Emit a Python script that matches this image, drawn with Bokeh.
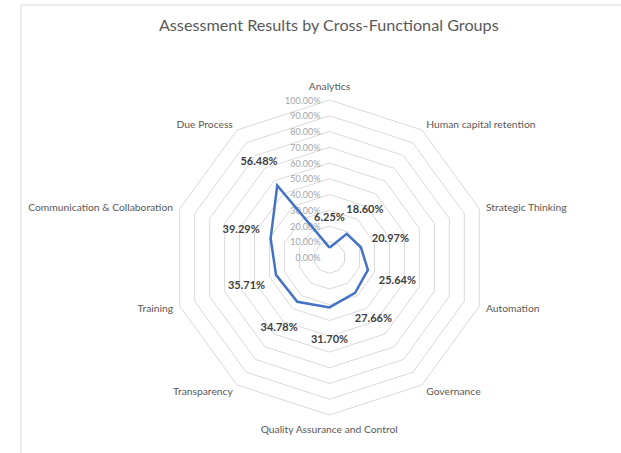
import numpy as np
from bokeh.plotting import figure
from bokeh.models import Range1d
from bokeh.core.properties import value
from bokeh.embed import file_html
from bokeh.resources import INLINE

# ---- data ----
categories = ["Analytics", "Human capital retention", "Strategic Thinking", "Automation",
              "Governance", "Quality Assurance and Control", "Transparency", "Training",
              "Communication & Collaboration", "Due Process"]
scores = [6.25, 18.60, 20.97, 25.64, 27.66, 31.70, 34.78, 35.71, 39.29, 56.48]
ring_values = [10, 20, 30, 40, 50, 60, 70, 80, 90, 100]
tick_values = [0, 10, 20, 30, 40, 50, 60, 70, 80, 90, 100]
tick_labels = ["%.2f%%" % v for v in tick_values]
title_text = "Assessment Results by Cross-Functional Groups"

# ---- layout ----
W, H = 621, 453
S = 1.575            # pixels per percent
CX, CY = 329, 257    # centre in figure pixels (from top-left)
FONT = "Lato"

p = figure(width=W, height=H, output_backend="svg", toolbar_location=None,
           x_range=Range1d(-CX / S, (W - CX) / S), y_range=Range1d(-(H - CY) / S, CY / S),
           min_border=0, background_fill_color="white", border_fill_color="white")
p.axis.visible = False
p.grid.visible = False
p.outline_line_color = None

def px_to_data(x, y):
    return (x - CX) / S, (CY - y) / S

n = len(categories)
ang = np.pi / 2 - 2 * np.pi * np.arange(n) / n

# chart area border (left and top)
bx, by_top = px_to_data(20.5, 4.5)
_, by_bot = px_to_data(0, H)
rx, _ = px_to_data(W, 0)
p.line([bx, bx, rx], [by_bot, by_top, by_top], line_color="#d9d9d9", line_width=1)

# rings
xs = [list(np.append(r * np.cos(ang), r * np.cos(ang[0]))) for r in ring_values]
ys = [list(np.append(r * np.sin(ang), r * np.sin(ang[0]))) for r in ring_values]
p.multi_line(xs, ys, line_color="#d9d9d9", line_width=1)

# tick labels
p.text(x=[-9 / S] * len(tick_values), y=tick_values, text=tick_labels,
       text_font=value(FONT), text_font_size="9px", text_color="#a6a6a6",
       text_align="right", text_baseline="middle")

# data line
vals = np.array(scores)
lx = list(np.append(vals * np.cos(ang), vals[0] * np.cos(ang[0])))
ly = list(np.append(vals * np.sin(ang), vals[0] * np.sin(ang[0])))
p.line(lx, ly, line_color="#4472C4", line_width=2.5, line_join="miter")

# data labels
off = 31 / S
p.text(x=list((vals + off) * np.cos(ang)), y=list((vals + off) * np.sin(ang)),
       text=["%.2f%%" % v for v in scores],
       text_font=value(FONT), text_font_size="11px", text_font_style="bold",
       text_color="#404040", text_align="center", text_baseline="middle")

# category labels
R = 100
for i, c in enumerate(categories):
    ca, sa = np.cos(ang[i]), np.sin(ang[i])
    if abs(ca) < 0.1:
        align = "center"
        base = "bottom" if sa > 0 else "top"
        loff = 8 / S
    else:
        align = "left" if ca > 0 else "right"
        base = "middle"
        loff = 7 / S
    p.text(x=[(R + loff) * ca], y=[(R + loff) * sa], text=[c],
           text_font=value(FONT), text_font_size="10.3px", text_color="#595959",
           text_align=align, text_baseline=base)

# title
tx, ty = px_to_data(328.5, 24)
p.text(x=[tx], y=[ty], text=[title_text], text_font=value(FONT),
       text_font_size="16.2px", text_color="#595959",
       text_align="center", text_baseline="middle")

open("out.html", "w").write(file_html(p, INLINE))
